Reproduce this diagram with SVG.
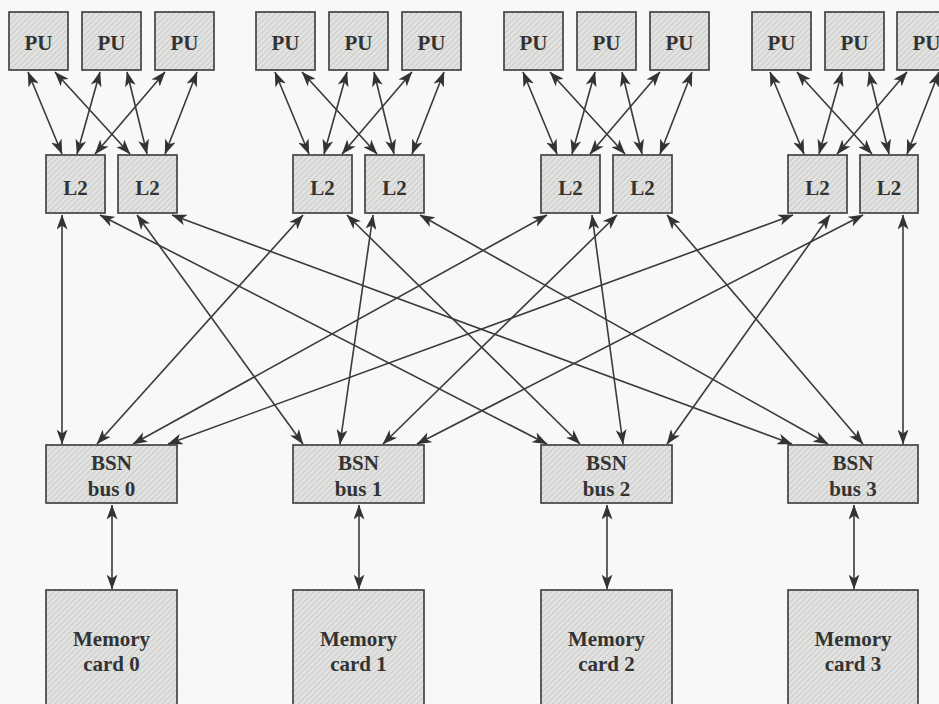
<svg xmlns="http://www.w3.org/2000/svg" width="939" height="704" viewBox="0 0 939 704">
<defs>
<pattern id="hatch" width="4" height="4" patternUnits="userSpaceOnUse" patternTransform="rotate(45)">
<rect width="4" height="4" fill="#e2e2e0"/>
<line x1="0" y1="0" x2="0" y2="4" stroke="#bdbdbb" stroke-width="1.3"/>
</pattern>
<marker id="ah" viewBox="0 0 15 11" refX="14.5" refY="5.5" markerWidth="15" markerHeight="11" markerUnits="userSpaceOnUse" orient="auto-start-reverse">
<path d="M0,0 L15,5.5 L0,11 L4,5.5 z" fill="#333"/>
</marker>
</defs>
<style>
.box{fill:url(#hatch);stroke:#444;stroke-width:1.7}
.t{font-family:"Liberation Serif","Times New Roman",serif;font-weight:bold;font-size:21px;fill:#333;text-anchor:middle}
.c line{stroke:#3a3a3a;stroke-width:1.6;marker-start:url(#ah);marker-end:url(#ah)}
</style>
<rect width="939" height="704" fill="#f8f8f6"/>

<g id="g0">
<g id="pu0a"><rect class="box" x="9" y="12" width="59" height="58"/><text class="t" x="38.5" y="50">PU</text></g>
<g id="pu0b"><rect class="box" x="82" y="12" width="59" height="58"/><text class="t" x="111.5" y="50">PU</text></g>
<g id="pu0c"><rect class="box" x="155" y="12" width="59" height="58"/><text class="t" x="184.5" y="50">PU</text></g>
<g id="l2_0a"><rect class="box" x="46" y="155" width="59" height="58"/><text class="t" x="75.5" y="195">L2</text></g>
<g id="l2_0b"><rect class="box" x="118" y="155" width="59" height="58"/><text class="t" x="147.5" y="195">L2</text></g>
</g>
<g id="g1">
<g id="pu1a"><rect class="box" x="256" y="12" width="59" height="58"/><text class="t" x="285.5" y="50">PU</text></g>
<g id="pu1b"><rect class="box" x="329" y="12" width="59" height="58"/><text class="t" x="358.5" y="50">PU</text></g>
<g id="pu1c"><rect class="box" x="402" y="12" width="59" height="58"/><text class="t" x="431.5" y="50">PU</text></g>
<g id="l2_1a"><rect class="box" x="293" y="155" width="59" height="58"/><text class="t" x="322.5" y="195">L2</text></g>
<g id="l2_1b"><rect class="box" x="365" y="155" width="59" height="58"/><text class="t" x="394.5" y="195">L2</text></g>
</g>
<g id="g2">
<g id="pu2a"><rect class="box" x="504" y="12" width="59" height="58"/><text class="t" x="533.5" y="50">PU</text></g>
<g id="pu2b"><rect class="box" x="577" y="12" width="59" height="58"/><text class="t" x="606.5" y="50">PU</text></g>
<g id="pu2c"><rect class="box" x="650" y="12" width="59" height="58"/><text class="t" x="679.5" y="50">PU</text></g>
<g id="l2_2a"><rect class="box" x="541" y="155" width="59" height="58"/><text class="t" x="570.5" y="195">L2</text></g>
<g id="l2_2b"><rect class="box" x="613" y="155" width="59" height="58"/><text class="t" x="642.5" y="195">L2</text></g>
</g>
<g id="g3">
<g id="pu3a"><rect class="box" x="752" y="12" width="59" height="58"/><text class="t" x="781.5" y="50">PU</text></g>
<g id="pu3b"><rect class="box" x="825" y="12" width="59" height="58"/><text class="t" x="854.5" y="50">PU</text></g>
<g id="pu3c"><rect class="box" x="897" y="12" width="59" height="58"/><text class="t" x="926.5" y="50">PU</text></g>
<g id="l2_3a"><rect class="box" x="788" y="155" width="59" height="58"/><text class="t" x="817.5" y="195">L2</text></g>
<g id="l2_3b"><rect class="box" x="860" y="155" width="58" height="58"/><text class="t" x="889" y="195">L2</text></g>
</g>

<g id="bsn0"><rect class="box" x="46" y="445" width="131" height="58"/><text class="t" x="111.5" y="470">BSN</text><text class="t" x="111.5" y="496">bus 0</text></g>
<g id="bsn1"><rect class="box" x="293" y="445" width="131" height="58"/><text class="t" x="358.5" y="470">BSN</text><text class="t" x="358.5" y="496">bus 1</text></g>
<g id="bsn2"><rect class="box" x="541" y="445" width="131" height="58"/><text class="t" x="606.5" y="470">BSN</text><text class="t" x="606.5" y="496">bus 2</text></g>
<g id="bsn3"><rect class="box" x="788" y="445" width="130" height="58"/><text class="t" x="853" y="470">BSN</text><text class="t" x="853" y="496">bus 3</text></g>

<g id="mem0"><rect class="box" x="46" y="590" width="131" height="120"/><text class="t" x="111.5" y="646">Memory</text><text class="t" x="111.5" y="671">card 0</text></g>
<g id="mem1"><rect class="box" x="293" y="590" width="131" height="120"/><text class="t" x="358.5" y="646">Memory</text><text class="t" x="358.5" y="671">card 1</text></g>
<g id="mem2"><rect class="box" x="541" y="590" width="131" height="120"/><text class="t" x="606.5" y="646">Memory</text><text class="t" x="606.5" y="671">card 2</text></g>
<g id="mem3"><rect class="box" x="788" y="590" width="130" height="120"/><text class="t" x="853" y="646">Memory</text><text class="t" x="853" y="671">card 3</text></g>

<g id="connectors" class="c">
<!-- PU to L2, group 0 -->
<line x1="28" y1="72" x2="62" y2="154"/>
<line x1="55" y1="72" x2="130" y2="154"/>
<line x1="100" y1="72" x2="77" y2="154"/>
<line x1="127" y1="72" x2="147" y2="154"/>
<line x1="165" y1="72" x2="95" y2="154"/>
<line x1="197" y1="72" x2="165" y2="154"/>
<!-- group 1 -->
<line x1="275" y1="72" x2="309" y2="154"/>
<line x1="302" y1="72" x2="377" y2="154"/>
<line x1="347" y1="72" x2="324" y2="154"/>
<line x1="374" y1="72" x2="394" y2="154"/>
<line x1="412" y1="72" x2="342" y2="154"/>
<line x1="444" y1="72" x2="412" y2="154"/>
<!-- group 2 -->
<line x1="523" y1="72" x2="557" y2="154"/>
<line x1="550" y1="72" x2="625" y2="154"/>
<line x1="595" y1="72" x2="572" y2="154"/>
<line x1="622" y1="72" x2="642" y2="154"/>
<line x1="660" y1="72" x2="590" y2="154"/>
<line x1="692" y1="72" x2="660" y2="154"/>
<!-- group 3 -->
<line x1="770" y1="72" x2="804" y2="154"/>
<line x1="797" y1="72" x2="872" y2="154"/>
<line x1="842" y1="72" x2="819" y2="154"/>
<line x1="869" y1="72" x2="889" y2="154"/>
<line x1="907" y1="72" x2="837" y2="154"/>
<line x1="939" y1="72" x2="907" y2="154"/>
<!-- L2 to BSN -->
<line x1="62" y1="215" x2="62" y2="444"/>
<line x1="100" y1="215" x2="547" y2="444"/>
<line x1="137" y1="215" x2="303" y2="444"/>
<line x1="172" y1="215" x2="792" y2="444"/>
<line x1="303" y1="215" x2="97" y2="444"/>
<line x1="347" y1="215" x2="580" y2="444"/>
<line x1="373" y1="215" x2="340" y2="444"/>
<line x1="420" y1="215" x2="828" y2="444"/>
<line x1="547" y1="215" x2="133" y2="444"/>
<line x1="592" y1="215" x2="623" y2="444"/>
<line x1="617" y1="215" x2="383" y2="444"/>
<line x1="667" y1="215" x2="863" y2="444"/>
<line x1="793" y1="215" x2="168" y2="444"/>
<line x1="830" y1="215" x2="667" y2="444"/>
<line x1="863" y1="215" x2="417" y2="444"/>
<line x1="903" y1="215" x2="903" y2="444"/>
<!-- BSN to memory -->
<line x1="112" y1="505" x2="112" y2="589"/>
<line x1="359" y1="505" x2="359" y2="589"/>
<line x1="607" y1="505" x2="607" y2="589"/>
<line x1="854" y1="505" x2="854" y2="589"/>
</g>
</svg>
